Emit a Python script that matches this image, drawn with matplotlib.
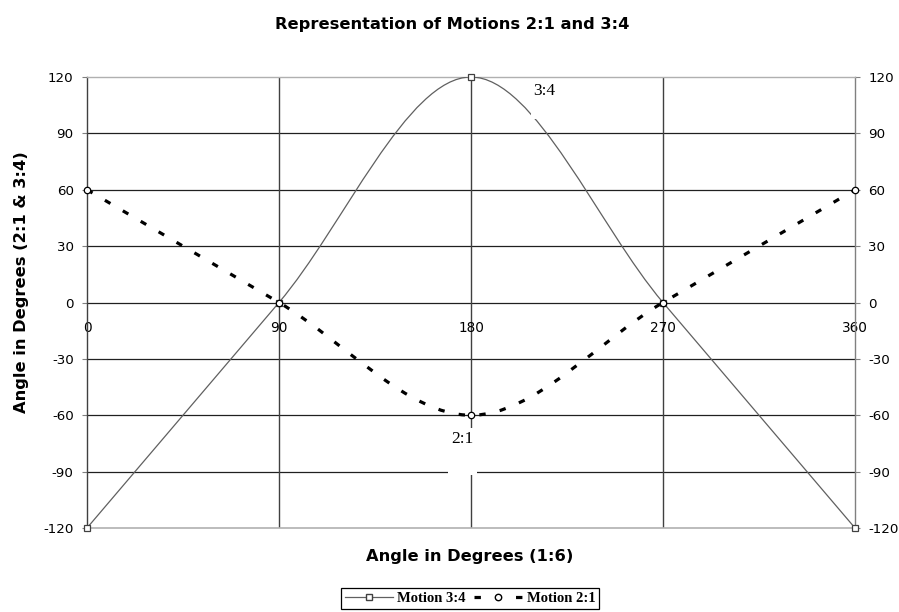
import numpy as np
import matplotlib
matplotlib.use("Agg")
import matplotlib.pyplot as plt
from matplotlib.path import Path
from matplotlib.patches import PathPatch
from matplotlib.lines import Line2D

plt.rcParams["axes.unicode_minus"] = False

# data
angle = [0, 90, 180, 270, 360]
motion_34 = [-120, 0, 120, 0, -120]
motion_21 = [60, 0, -60, 0, 60]
x_ticks = [0, 90, 180, 270, 360]
y_ticks = [-120, -90, -60, -30, 0, 30, 60, 90, 120]


def smooth_path(xs, ys):
    # excel style smoothed line: cubic bezier through the points
    pts = np.column_stack([xs, ys]).astype(float)
    n = len(pts)
    verts = [pts[0]]
    codes = [Path.MOVETO]
    for i in range(n - 1):
        p_prev = pts[i - 1] if i > 0 else pts[i]
        p_next = pts[i + 2] if i + 2 < n else pts[i + 1]
        c1 = pts[i] + (pts[i + 1] - p_prev) / 6
        c2 = pts[i + 1] - (p_next - pts[i]) / 6
        verts += [c1, c2, pts[i + 1]]
        codes += [Path.CURVE4] * 3
    return Path(verts, codes)


fig = plt.figure(figsize=(8.99, 6.12), dpi=100)
ax = fig.add_axes([87 / 899, 1 - 528 / 612, (855 - 87) / 899, (528 - 77) / 612])

ax.set_xlim(0, 360)
ax.set_ylim(-120, 120)
ax.set_xticks(x_ticks)
ax.set_yticks(y_ticks)

# grid lines
for y in y_ticks:
    if abs(y) < 120:
        ax.axhline(y, color="#202020", lw=0.9, zorder=1)
for x in x_ticks[1:-1]:
    ax.axvline(x, color="#404040", lw=1.0, zorder=1)
ax.axhline(-120, color="#b0b0b0", lw=1.2, zorder=1, clip_on=False)

# frame
ax.spines["bottom"].set_position(("data", 0))
ax.spines["bottom"].set_visible(False)
ax.spines["top"].set_color("#b0b0b0")
ax.spines["left"].set_color("#404040")
ax.spines["right"].set_color("#808080")
for s in ["top", "left", "right"]:
    ax.spines[s].set_linewidth(1.0)

# curves
line34 = "#606060"
ax.add_patch(PathPatch(smooth_path(angle, motion_34), facecolor="none",
                       edgecolor=line34, lw=0.9, zorder=3))
ax.add_patch(PathPatch(smooth_path(angle, motion_21), facecolor="none",
                       edgecolor="black", lw=2.3, linestyle=(0, (2, 4.5)),
                       capstyle="butt", zorder=3))
ax.plot(angle, motion_34, linestyle="none", marker="s", markersize=4.2,
        markerfacecolor="white", markeredgecolor="#404040",
        markeredgewidth=0.9, zorder=4, clip_on=False)
ax.plot(angle, motion_21, linestyle="none", marker="o", markersize=4.6,
        markerfacecolor="white", markeredgecolor="black",
        markeredgewidth=0.9, zorder=4, clip_on=False)

# data labels
ax.text(214.5, 116.8, "3:4\n", ha="center", va="top", fontsize=12.5,
        family="Liberation Serif", linespacing=1.1, zorder=5,
        bbox=dict(boxstyle="square,pad=0.15", facecolor="white", edgecolor="none"))
ax.text(176, -68.5, "2:1\n", ha="center", va="top", fontsize=12.5,
        family="Liberation Serif", linespacing=1.7, zorder=5,
        bbox=dict(boxstyle="square,pad=0.2", facecolor="white", edgecolor="none"))

# ticks
ax.tick_params(axis="x", length=0, pad=13.5, labelsize=9.8)
ax.tick_params(axis="y", direction="out", length=3.6, width=0.8,
               color="#808080", pad=6, labelsize=9.6,
               left=True, right=True, labelleft=True, labelright=True)

# titles
fig.text(452 / 899, 1 - 24 / 612, "Representation of Motions 2:1 and 3:4",
         ha="center", va="center", fontsize=11.7, fontweight="bold")
fig.text(470 / 899, 1 - 556 / 612, "Angle in Degrees (1:6)",
         ha="center", va="center", fontsize=11.7, fontweight="bold")
fig.text(22 / 899, 1 - 282 / 612, "Angle in Degrees (2:1 & 3:4)",
         ha="center", va="center", rotation=90, fontsize=11.7, fontweight="bold")

# legend
handles = [
    Line2D([], [], color=line34, lw=0.9, marker="s", markersize=4.2,
           markerfacecolor="white", markeredgecolor="#404040"),
    Line2D([], [], color="black", lw=2.3, linestyle=(0, (2, 4.5)), marker="o",
           markersize=4.6, markerfacecolor="white", markeredgecolor="black"),
]
leg = fig.legend(handles, ["Motion 3:4", "Motion 2:1"], loc="upper center",
                 bbox_to_anchor=(470 / 899, 1 - 588 / 612), ncol=2,
                 prop={"family": "Liberation Serif", "weight": "bold", "size": 10.5},
                 frameon=True, fancybox=False, edgecolor="black", framealpha=1,
                 handlelength=3.3, handletextpad=0.3, columnspacing=0.6,
                 borderpad=0.25, borderaxespad=0)
leg.get_frame().set_linewidth(0.9)

fig.savefig("out.png", dpi=100)
